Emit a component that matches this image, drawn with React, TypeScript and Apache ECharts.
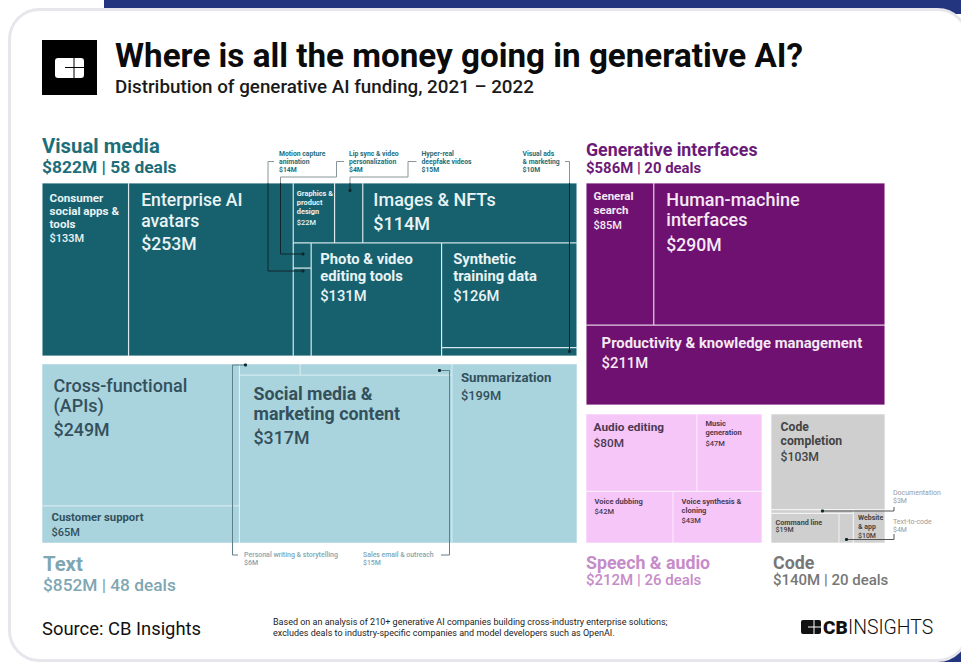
import React, { useEffect, useRef } from "react";
import * as echarts from "echarts";

// ---- values ($M) ----
const visualLeftNames = ["Consumer\nsocial apps &\ntools", "Enterprise AI\navatars"];
const visualLeftValues = [133, 253];
const visualTopNames = ["Graphics &\nproduct\ndesign", "Hyper-real deepfake videos", "Images & NFTs"];
const visualTopValues = [22, 15, 114];
const visualSmallNames = ["Lip sync & video personalization", "Motion capture animation"];
const visualSmallValues = [4, 14];
const visualPhotoName = "Photo & video\nediting tools";
const visualPhotoValue = 131;
const visualRightNames = ["Synthetic\ntraining data", "Visual ads & marketing"];
const visualRightValues = [126, 10];

const textLeftNames = ["Cross-functional\n(APIs)", "Customer support"];
const textLeftValues = [249, 65];
const textStripNames = ["Personal writing & storytelling", "Sales email & outreach"];
const textStripValues = [6, 15];
const textSocialName = "Social media &\nmarketing content";
const textSocialValue = 317;
const textSummaryName = "Summarization";
const textSummaryValue = 199;

const interfaceNames = ["General\nsearch", "Human-machine\ninterfaces", "Productivity & knowledge management"];
const interfaceValues = [85, 290, 211];

const speechNames = ["Audio editing", "Music\ngeneration", "Voice dubbing", "Voice synthesis &\ncloning"];
const speechValues = [80, 47, 42, 43];

const codeNames = ["Code\ncompletion", "Documentation", "Command line", "Text-to-code", "Website\n& app"];
const codeValues = [103, 3, 19, 4, 10];

const groupHeaders = [
  ["Visual media", "$822M | 58 deals"],
  ["Generative interfaces", "$586M | 20 deals"],
  ["Text", "$852M | 48 deals"],
  ["Speech & audio", "$212M | 26 deals"],
  ["Code", "$140M | 20 deals"],
];

const FONT = "Roboto";
const sum = (a: number[]) => a.reduce((p, c) => p + c, 0);

type Spec = [number, number, number, number, number, number, number, number]; // padTop, padLeft, size, lh, vSize, vlh, nameWeight, valueWeight

function leaf(name: string, value: number, fill: string, line: string, ink: string, spec?: Spec) {
  const node: any = {
    name,
    value,
    itemStyle: { color: fill, borderColor: line, borderWidth: 0.6, gapWidth: 0 },
    label: { show: false },
  };
  if (spec) {
    const [pt, pl, fs, lh, vs, vlh, w, vw] = spec;
    node.label = {
      show: true,
      position: "insideTopLeft",
      distance: 0,
      overflow: "none",
      padding: [pt, 0, 0, pl],
      formatter: name.split("\n").map((l) => `{n|${l}}`).join("\n") + `\n{v|$${value}M}`,
      rich: {
        n: { fontFamily: FONT, fontSize: fs, lineHeight: lh, fontWeight: w, color: ink },
        v: { fontFamily: FONT, fontSize: vs, lineHeight: vlh, fontWeight: vw, color: ink },
      },
    };
  }
  return node;
}
const group = (name: string, fill: string, children: any[]) => ({
  name,
  children,
  itemStyle: { color: fill, borderWidth: 0, gapWidth: 0 },
});
function tm(name: string, rect: number[], squareRatio: number, data: any[]) {
  return {
    type: "treemap",
    name,
    left: rect[0],
    top: rect[1],
    width: rect[2],
    height: rect[3],
    squareRatio,
    sort: false,
    roam: false,
    nodeClick: false,
    visibleMin: 0,
    breadcrumb: { show: false },
    tooltip: { show: false },
    itemStyle: { borderWidth: 0, gapWidth: 0 },
    upperLabel: { show: false },
    data,
  };
}

function buildSeries() {
  // Visual media
  const VF = "#17616f", VL = "#cfe2e6", VI = "#e9f3f4";
  const [vx, vy, vw, vh] = [42, 183, 535, 173];
  const vTotal = sum(visualLeftValues) + sum(visualTopValues) + sum(visualSmallValues) + visualPhotoValue + sum(visualRightValues);
  const vlw = (vw * sum(visualLeftValues)) / vTotal;
  const rw = vw - vlw;
  const rTotal = vTotal - sum(visualLeftValues);
  const toph = (vh * sum(visualTopValues)) / rTotal;
  const midw = (rw * (sum(visualSmallValues) + visualPhotoValue)) / (rTotal - sum(visualTopValues));
  const rx = vx + vlw;

  const visualLeft = tm("Visual media", [vx, vy, vlw, vh], 1, [
    leaf(visualLeftNames[0], visualLeftValues[0], VF, VL, VI, [7.5, 7, 11.6, 13, 11, 17, 700, 500]),
    leaf(visualLeftNames[1], visualLeftValues[1], VF, VL, VI, [5.5, 12, 17.6, 21, 17.6, 25, 500, 500]),
  ]);
  const visualTop = tm("Visual media top", [rx, vy, rw, toph], 1, [
    leaf(visualTopNames[0], visualTopValues[0], VF, VL, VI, [5.5, 3, 7.4, 9, 7.4, 13, 700, 500]),
    leaf(visualTopNames[1], visualTopValues[1], VF, VL, VI),
    leaf(visualTopNames[2], visualTopValues[2], VF, VL, VI, [5.5, 10, 18, 21, 18, 27, 500, 500]),
  ]);
  const visualMid = tm("Visual media middle", [rx, vy + toph, midw, vh - toph], 1, [
    group("Small", VF, [
      leaf(visualSmallNames[0], visualSmallValues[0], VF, VL, VI),
      leaf(visualSmallNames[1], visualSmallValues[1], VF, VL, VI),
    ]),
    leaf(visualPhotoName, visualPhotoValue, VF, VL, VI, [6.5, 8.5, 14.8, 17, 14.7, 23, 700, 500]),
  ]);
  const visualRight = tm("Visual media right", [rx + midw, vy + toph, rw - midw, vh - toph], 5, [
    leaf(visualRightNames[0], visualRightValues[0], VF, VL, VI, [6.5, 11, 14.8, 17, 14.7, 23, 700, 500]),
    leaf(visualRightNames[1], visualRightValues[1], VF, VL, VI),
  ]);

  // Text
  const TF = "#a9d3dd", TL = "#d3e9ee", TI = "#33505c";
  const text = tm("Text", [42, 364, 535, 179], 2.3, [
    group("Left", TF, [
      leaf(textLeftNames[0], textLeftValues[0], TF, TL, TI, [11, 11, 18, 20, 17.8, 28, 500, 500]),
      leaf(textLeftNames[1], textLeftValues[1], TF, TL, TI, [5, 9, 11.3, 12, 11, 18, 700, 500]),
    ]),
    group("Rest", TF, [
      group("Social block", TF, [
        group("Strip", TF, [
          leaf(textStripNames[0], textStripValues[0], TF, TL, TI),
          leaf(textStripNames[1], textStripValues[1], TF, TL, TI),
        ]),
        leaf(textSocialName, textSocialValue, TF, TL, TI, [8, 13.5, 17.8, 20, 17.8, 28, 700, 500]),
      ]),
      leaf(textSummaryName, textSummaryValue, TF, TL, TI, [5.5, 8.5, 13.2, 15, 12.8, 21, 700, 500]),
    ]),
  ]);

  // Generative interfaces
  const GF = "#6f1170", GL = "#e3cce3", GI = "#f4e9f4";
  const gen = tm("Generative interfaces", [586, 183, 299, 222], 2, [
    group("Top", GF, [
      leaf(interfaceNames[0], interfaceValues[0], GF, GL, GI, [5, 7, 11.5, 14, 11, 18, 700, 500]),
      leaf(interfaceNames[1], interfaceValues[1], GF, GL, GI, [6, 12, 18, 20, 17.6, 30, 500, 500]),
    ]),
    leaf(interfaceNames[2], interfaceValues[2], GF, GL, GI, [8.5, 15, 14.8, 17, 14.8, 23, 700, 500]),
  ]);

  // Speech & audio
  const SF = "#f6c6f9", SL = "#fce8fd", SI = "#4c3a52";
  const speech = tm("Speech & audio", [586, 414, 176, 129], 2, [
    group("Upper", SF, [
      leaf(speechNames[0], speechValues[0], SF, SL, SI, [5, 7, 11.8, 14, 11.8, 18, 700, 500]),
      leaf(speechNames[1], speechValues[1], SF, SL, SI, [4.5, 8, 7.5, 9, 7.5, 13, 700, 500]),
    ]),
    group("Lower", SF, [
      leaf(speechNames[2], speechValues[2], SF, SL, SI, [5.5, 8, 7.5, 9, 7.5, 11, 700, 500]),
      leaf(speechNames[3], speechValues[3], SF, SL, SI, [5.5, 8, 7.5, 9, 7.5, 11, 700, 500]),
    ]),
  ]);

  // Code
  const CF = "#cfcfcf", CL = "#ececec", CI = "#444444";
  const cTotal = sum(codeValues);
  const cTop = (129 * codeValues[0]) / cTotal;
  const codeTop = tm("Code", [771, 414, 114, cTop], 1, [
    leaf(codeNames[0], codeValues[0], CF, CL, CI, [5, 9, 12.2, 14, 12.2, 18, 700, 500]),
  ]);
  const codeBottom = tm("Code bottom", [771, 414 + cTop, 114, 129 - cTop], 3, [
    group("Left part", CF, [
      leaf(codeNames[1], codeValues[1], CF, CL, CI),
      group("Lower part", CF, [
        leaf(codeNames[2], codeValues[2], CF, CL, CI, [4, 4, 7.2, 8, 7, 8, 700, 500]),
        leaf(codeNames[3], codeValues[3], CF, CL, CI),
      ]),
    ]),
    leaf(codeNames[4], codeValues[4], CF, CL, CI, [3.5, 4, 7, 9, 7, 8, 700, 500]),
  ]);
  return [visualLeft, visualTop, visualMid, visualRight, text, gen, speech, codeTop, codeBottom];
}

function txt(x: number, y: number, text: string, size: number, weight: number, fill: string, lh?: number, extra: any = {}) {
  return {
    type: "text",
    x,
    y,
    z: 50,
    silent: true,
    style: {
      text,
      fontFamily: FONT,
      fontSize: size,
      fontWeight: weight,
      fill,
      lineHeight: lh || size * 1.2,
      verticalAlign: "middle",
      ...extra,
    },
  };
}
function leader(points: number[][], color: string, dot?: number[]) {
  const out: any[] = [
    { type: "polyline", z: 60, silent: true, shape: { points }, style: { stroke: color, lineWidth: 1, fill: "none" } },
  ];
  if (dot) out.push({ type: "circle", z: 61, silent: true, shape: { cx: dot[0], cy: dot[1], r: 1.6 }, style: { fill: "#10262c" } });
  return out;
}

function buildGraphics() {
  const teal = "#1d6e7a";
  const DK = "#10262c";
  const GR = "#8a9599";
  const lb = "#7fa6b3";
  const gy = "#9a9a9a";
  const e: any[] = [
    // backdrop and card
    { type: "rect", z: -5, silent: true, shape: { x: 104, y: 0, width: 857, height: 14 }, style: { fill: "#24357f" } },
    { type: "rect", z: -5, silent: true, shape: { x: 925, y: 625, width: 36, height: 37 }, style: { fill: "#24357f" } },
    {
      type: "rect", z: -4, silent: true,
      shape: { x: 9.5, y: 9.5, width: 958, height: 651, r: 30 },
      style: { fill: "#ffffff", stroke: "#e6e6ec", lineWidth: 3 },
    },
    // logo
    { type: "rect", z: 5, silent: true, shape: { x: 42, y: 40, width: 55, height: 55 }, style: { fill: "#000000" } },
    { type: "rect", z: 6, silent: true, shape: { x: 55, y: 58, width: 29, height: 20, r: 3 }, style: { fill: "#ffffff" } },
    { type: "line", z: 7, silent: true, shape: { x1: 65, y1: 67.5, x2: 84, y2: 67.5 }, style: { stroke: "#000", lineWidth: 1 } },
    { type: "line", z: 7, silent: true, shape: { x1: 74, y1: 58, x2: 74, y2: 78 }, style: { stroke: "#000", lineWidth: 1 } },
    // title
    txt(115, 55, "Where is all the money going in generative AI?", 33.2, 700, "#0b0b0b"),
    txt(115, 87, "Distribution of generative AI funding, 2021 – 2022", 18.8, 500, "#1a1a1a"),
    // group headers
    txt(42, 146, groupHeaders[0][0], 20.3, 700, teal),
    txt(42, 167, groupHeaders[0][1], 17.4, 700, teal),
    txt(586, 149, groupHeaders[1][0], 17.8, 700, "#6b1a78"),
    txt(586, 168, groupHeaders[1][1], 14.9, 700, "#6b1a78"),
    txt(43, 564, groupHeaders[2][0], 20.3, 700, lb),
    txt(43, 585, groupHeaders[2][1], 17.3, 500, lb),
    txt(586, 562, groupHeaders[3][0], 17.8, 700, "#c58cc9"),
    txt(586, 580, groupHeaders[3][1], 15, 500, "#c58cc9"),
    txt(773, 562, groupHeaders[4][0], 17.8, 700, "#777777"),
    txt(773, 580, groupHeaders[4][1], 15, 500, "#777777"),
    // callouts above the visual block
    txt(279, 162, `Motion capture\nanimation\n$${visualSmallValues[1]}M`, 6.8, 700, teal, 8),
    txt(349, 162, `Lip sync & video\npersonalization\n$${visualSmallValues[0]}M`, 6.8, 700, teal, 8),
    txt(421.5, 162, `Hyper-real\ndeepfake videos\n$${visualTopValues[1]}M`, 6.8, 700, teal, 8),
    txt(522.5, 162, `Visual ads\n& marketing\n$${visualRightValues[1]}M`, 6.8, 700, teal, 8),
    // callouts below the text block
    txt(244, 559, `Personal writing & storytelling\n$${textStripValues[0]}M`, 7, 500, lb, 8.5),
    txt(363, 559, `Sales email & outreach\n$${textStripValues[1]}M`, 6.9, 500, lb, 8.5),
    // code callouts
    txt(893, 497, `Documentation\n$${codeValues[1]}M`, 7, 400, gy, 8.5),
    txt(893, 526, `Text-to-code\n$${codeValues[3]}M`, 7, 400, gy, 8.5),
    // footer
    txt(42, 628, "Source: CB Insights", 18.4, 400, "#111111"),
    txt(273, 627.5, "Based on an analysis of 210+ generative AI companies building cross-industry enterprise solutions;\nexcludes deals to industry-specific companies and model developers such as OpenAI.", 9, 400, "#222222", 11),
    { type: "rect", z: 6, silent: true, shape: { x: 801, y: 620, width: 20, height: 14, r: 2 }, style: { fill: "#111111" } },
    { type: "line", z: 7, silent: true, shape: { x1: 808, y1: 627, x2: 821, y2: 627 }, style: { stroke: "#fff", lineWidth: 1 } },
    { type: "line", z: 7, silent: true, shape: { x1: 814, y1: 620, x2: 814, y2: 634 }, style: { stroke: "#fff", lineWidth: 1 } },
    txt(823, 627.5, "CB", 19, 900, "#111111"),
    txt(848, 627.5, "INSIGHTS", 19.4, 300, "#111111"),
  ];
  // leader lines
  e.push(...leader([[274, 161.5], [268, 161.5], [268, 183]], GR));
  e.push(...leader([[268, 183], [268, 271], [303, 271]], DK, [303, 271]));
  e.push(...leader([[344, 161.5], [336.5, 161.5], [336.5, 177], [280.5, 177], [280.5, 183]], GR));
  e.push(...leader([[280.5, 183], [280.5, 254], [303, 254]], DK, [303, 254]));
  e.push(...leader([[416.5, 161.5], [408, 161.5], [408, 177], [350, 177], [350, 183]], GR));
  e.push(...leader([[350, 183], [350, 190.5]], DK, [350, 190.5]));
  e.push(...leader([[565, 161.5], [569.5, 161.5], [569.5, 183]], GR));
  e.push(...leader([[569.5, 183], [569.5, 351.5]], DK, [569.5, 351.5]));
  e.push(...leader([[238, 555], [232.5, 555], [232.5, 365], [245.5, 365]], "#5f7f8a", [245.5, 365]));
  e.push(...leader([[441, 555], [449.5, 555], [449.5, 370.5], [439.5, 370.5]], "#5f7f8a", [439.5, 370.5]));
  e.push(...leader([[822.5, 511], [894, 511], [894, 507]], "#555555", [822.5, 511]));
  e.push(...leader([[846.5, 539.5], [894, 539.5], [894, 534]], "#555555", [846.5, 539.5]));
  return e;
}

export default function App() {
  const ref = useRef<HTMLDivElement>(null);
  useEffect(() => {
    document.body.style.margin = "0";
    const chart = echarts.init(ref.current!, undefined, { renderer: "svg" });
    chart.setOption({
      animation: false,
      backgroundColor: "#ffffff",
      series: buildSeries(),
      graphic: { elements: buildGraphics() },
    });
    return () => chart.dispose();
  }, []);
  return <div ref={ref} style={{ width: 961, height: 662 }} />;
}
